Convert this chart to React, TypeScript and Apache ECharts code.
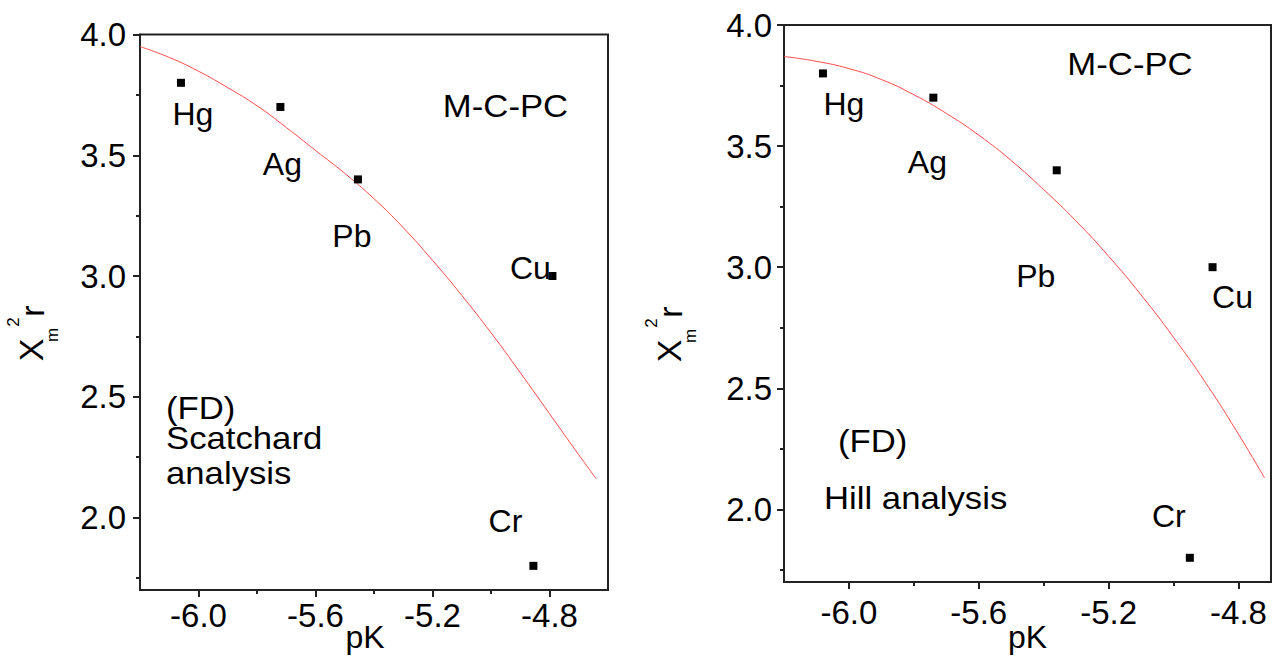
import React, { useEffect, useRef } from 'react';
import * as echarts from 'echarts';

// ---- data ----
const elements = ['Hg', 'Ag', 'Pb', 'Cu', 'Cr'];

// Left panel: (FD) Scatchard analysis
const scatchardPK = [-6.06, -5.72, -5.455, -4.79, -4.855];
const scatchardX2r = [3.8, 3.7, 3.4, 3.0, 1.8];
const scatchardFitPK = [-6.2, -6.1, -6.0, -5.9, -5.8, -5.7, -5.6, -5.5, -5.4, -5.3, -5.2, -5.1, -5.0, -4.9, -4.8, -4.7, -4.64];
const scatchardFitX2r = [3.95, 3.905, 3.848, 3.78, 3.705, 3.615, 3.52, 3.425, 3.32, 3.2, 3.065, 2.92, 2.765, 2.6, 2.43, 2.26, 2.16];

// Right panel: (FD) Hill analysis
const hillPK = [-6.08, -5.74, -5.36, -4.88, -4.95];
const hillX2r = [3.8, 3.7, 3.4, 3.0, 1.8];
const hillFitPK = [-6.2, -6.1, -6.0, -5.9, -5.8, -5.7, -5.6, -5.5, -5.4, -5.3, -5.2, -5.1, -5.0, -4.9, -4.8, -4.72];
const hillFitX2r = [3.87, 3.85, 3.82, 3.775, 3.712, 3.635, 3.545, 3.44, 3.32, 3.19, 3.045, 2.885, 2.71, 2.52, 2.31, 2.13];

// tick labels
const xMajorTicks = [-6.0, -5.6, -5.2, -4.8];
const xMinorTicks = [-5.8, -5.4, -5.0];
const yMajorTicks = [2.0, 2.5, 3.0, 3.5, 4.0];
const yMinorTicks = [1.75, 2.25, 2.75, 3.25, 3.75];

// ---- styling (label offsets in px relative to the marker) ----
const scatchardLabelOffsets = [[12, 31], [2, 57], [-6, 57], [-22, -8], [-28, -45]];
const hillLabelOffsets = [[21, 31], [-6, 64], [-21, 106], [20, 30], [-21, -42]];

const FONT = 'Liberation Sans, Arial, Helvetica, sans-serif';
const INK = '#000';
const FRAME = '#222';
const FIT = '#ff4a4a';

function xAxes(gridIndex: number, min: number, max: number, labelMargin: number, nameGap: number, namePad: number[]) {
  return [
    {
      type: 'value', gridIndex, min, max, position: 'bottom',
      axisLine: { show: true, onZero: false, lineStyle: { color: FRAME, width: 2 } },
      axisTick: { show: true, customValues: xMajorTicks, length: 7, lineStyle: { color: FRAME, width: 2 } },
      axisLabel: { customValues: xMajorTicks, formatter: (v: number) => v.toFixed(1), fontSize: 33, color: INK, margin: labelMargin, fontFamily: FONT },
      splitLine: { show: false },
      name: 'pK', nameLocation: 'middle', nameGap, nameMoveOverlap: false,
      nameTextStyle: { fontSize: 32, color: INK, fontFamily: FONT, padding: namePad },
    },
    {
      type: 'value', gridIndex, min, max, position: 'bottom',
      axisLine: { show: false, onZero: false },
      axisTick: { show: true, customValues: xMinorTicks, length: 4, lineStyle: { color: FRAME, width: 2 } },
      axisLabel: { show: false },
      splitLine: { show: false },
    },
  ];
}

function yAxes(gridIndex: number, labelMargin: number) {
  return [
    {
      type: 'value', gridIndex, min: 1.7, max: 4.0, position: 'left',
      axisLine: { show: true, onZero: false, lineStyle: { color: FRAME, width: 2 } },
      axisTick: { show: true, customValues: yMajorTicks, length: 7, lineStyle: { color: FRAME, width: 2 } },
      axisLabel: { customValues: yMajorTicks, formatter: (v: number) => v.toFixed(1), fontSize: 33, color: INK, margin: labelMargin, fontFamily: FONT },
      splitLine: { show: false },
    },
    {
      type: 'value', gridIndex, min: 1.7, max: 4.0, position: 'left',
      axisLine: { show: false, onZero: false },
      axisTick: { show: true, customValues: yMinorTicks, length: 4, lineStyle: { color: FRAME, width: 2 } },
      axisLabel: { show: false },
      splitLine: { show: false },
    },
  ];
}

function pointData(pk: number[], val: number[], offsets: number[][]) {
  return elements.map((name, i) => ({
    name,
    value: [pk[i], val[i]],
    label: { offset: offsets[i] },
  }));
}

function scatterSeries(axisIndex: number, pk: number[], val: number[], offsets: number[][]) {
  return {
    type: 'scatter', xAxisIndex: axisIndex, yAxisIndex: axisIndex,
    symbol: 'rect', symbolSize: 8,
    itemStyle: { color: '#000', opacity: 1 },
    label: {
      show: true, position: 'inside', formatter: '{b}', fontSize: 32, color: INK, fontFamily: FONT,
      textBorderWidth: 0, textBorderColor: 'transparent', opacity: 1,
    },
    data: pointData(pk, val, offsets),
    z: 3,
  };
}

function fitSeries(axisIndex: number, pk: number[], val: number[]) {
  return {
    type: 'line', xAxisIndex: axisIndex, yAxisIndex: axisIndex,
    showSymbol: false, smooth: true, silent: true,
    lineStyle: { color: FIT, width: 1 },
    data: pk.map((x, i) => [x, val[i]]),
    z: 2,
  };
}

function txt(text: string, x: number, y: number, align: string, size = 31, scaleX = 1.12) {
  return {
    type: 'text', x, y, scaleX,
    style: { text, fill: INK, font: `${size}px ${FONT}`, align, verticalAlign: 'middle' },
  };
}

function rot(text: string, x: number, y: number, size: number) {
  return {
    type: 'text', x, y, rotation: Math.PI / 2,
    style: { text, fill: INK, font: `${size}px ${FONT}`, align: 'center', verticalAlign: 'middle' },
  };
}

function yName(x: number, y: number) {
  // x, y : centre of the big "X"
  return [
    rot('X', x, y, 34),
    rot('m', x + 21, y - 15, 17),
    rot('2', x - 18, y - 28, 17),
    rot('r', x + 1, y - 39, 34),
  ];
}

export default function App() {
  const ref = useRef<HTMLDivElement>(null);
  useEffect(() => {
    if (!ref.current) return;
    const chart = echarts.init(ref.current, undefined, { renderer: 'svg' });
    chart.setOption({
      animation: false,
      backgroundColor: '#fff',
      grid: [
        { left: 140, top: 34.5, width: 468, height: 555.5, show: true, borderColor: FRAME, borderWidth: 2, containLabel: false, outerBoundsMode: 'none' },
        { left: 784, top: 25, width: 487, height: 557, show: true, borderColor: FRAME, borderWidth: 2, containLabel: false, outerBoundsMode: 'none' },
      ],
      xAxis: [...xAxes(0, -6.2, -4.6, 9, 31, [0, 18, 0, 0]), ...xAxes(1, -6.2, -4.7, 14, 39, [0, 0, 0, 0])],
      yAxis: [...yAxes(0, 14), ...yAxes(1, 12)],
      series: [
        fitSeries(0, scatchardFitPK, scatchardFitX2r),
        scatterSeries(0, scatchardPK, scatchardX2r, scatchardLabelOffsets),
        fitSeries(2, hillFitPK, hillFitX2r),
        scatterSeries(2, hillPK, hillX2r, hillLabelOffsets),
      ],
      graphic: [
        txt('M-C-PC', 505.5, 106, 'center'),
        txt('(FD)', 166, 408.5, 'left'),
        txt('Scatchard', 166, 438, 'left'),
        txt('analysis', 166, 473, 'left'),
        txt('M-C-PC', 1130, 64, 'center'),
        txt('(FD)', 838, 441, 'left'),
        txt('Hill analysis', 824, 498, 'left'),
        ...yName(31, 350),
        ...yName(669, 351),
      ],
    });
    return () => chart.dispose();
  }, []);
  return (
    <div
      ref={ref}
      style={{ position: 'fixed', left: 0, top: 0, width: 1280, height: 656, background: '#fff' }}
    />
  );
}
